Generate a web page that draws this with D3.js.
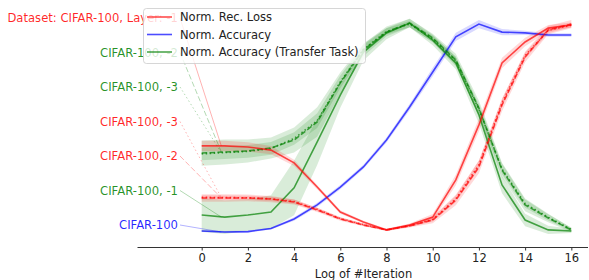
<!DOCTYPE html>
<html>
<head>
<meta charset="utf-8">
<script src="https://cdn.jsdelivr.net/npm/d3@7"></script>
<style>
  body { margin: 0; background: #fff; }
  svg { font-family: "DejaVu Sans", sans-serif; }
</style>
</head>
<body>
<div id="chart"></div>
<script>
// log of #iteration, 0..16
var iters = d3.range(0, 17);
var xTicks = [0, 2, 4, 6, 8, 10, 12, 14, 16];

// normalised curves (mean) and their spread (std)
var recLoss1 = [0.41, 0.41, 0.405, 0.39, 0.329, 0.214, 0.095, 0.048, 0.01, 0.033, 0.071, 0.248, 0.51, 0.805, 0.905, 0.971, 0.986];
var recLoss1Std = [0.025, 0.025, 0.022, 0.02, 0.015, 0.01, 0.008, 0.006, 0.005, 0.008, 0.015, 0.025, 0.03, 0.025, 0.02, 0.015, 0.012];
var recLoss2 = [0.162, 0.162, 0.162, 0.157, 0.143, 0.105, 0.062, 0.033, 0.01, 0.029, 0.057, 0.152, 0.31, 0.605, 0.833, 0.962, 0.99];
var recLoss2Std = [0.018, 0.018, 0.016, 0.015, 0.012, 0.01, 0.008, 0.006, 0.005, 0.008, 0.015, 0.025, 0.03, 0.03, 0.025, 0.02, 0.02];
var recLoss3 = [0.165, 0.164, 0.163, 0.158, 0.145, 0.108, 0.064, 0.035, 0.01, 0.03, 0.06, 0.158, 0.32, 0.615, 0.84, 0.96, 0.985];
var recLoss3Std = [0.01, 0.01, 0.01, 0.01, 0.01, 0.008, 0.006, 0.005, 0.004, 0.006, 0.01, 0.015, 0.02, 0.02, 0.015, 0.012, 0.01];

var acc = [0.005, 0.0, 0.002, 0.017, 0.062, 0.129, 0.214, 0.31, 0.438, 0.595, 0.762, 0.929, 0.99, 0.952, 0.948, 0.938, 0.938];
var accStd = [0.005, 0.005, 0.005, 0.005, 0.008, 0.01, 0.01, 0.01, 0.012, 0.015, 0.02, 0.02, 0.02, 0.015, 0.01, 0.008, 0.008];

var tAcc1 = [0.081, 0.071, 0.081, 0.095, 0.21, 0.429, 0.652, 0.857, 0.948, 0.995, 0.914, 0.805, 0.557, 0.224, 0.057, 0.01, 0.005];
var tAcc1Std = [0.08, 0.08, 0.075, 0.08, 0.13, 0.11, 0.06, 0.04, 0.03, 0.02, 0.025, 0.03, 0.04, 0.04, 0.03, 0.02, 0.01];
var tAcc2 = [0.376, 0.381, 0.386, 0.4, 0.438, 0.524, 0.71, 0.867, 0.952, 0.995, 0.924, 0.819, 0.59, 0.295, 0.129, 0.067, 0.01];
var tAcc2Std = [0.06, 0.06, 0.055, 0.05, 0.06, 0.07, 0.05, 0.03, 0.02, 0.02, 0.02, 0.03, 0.035, 0.035, 0.03, 0.02, 0.01];
var tAcc3 = [0.372, 0.378, 0.384, 0.398, 0.445, 0.53, 0.715, 0.87, 0.955, 0.99, 0.92, 0.815, 0.585, 0.3, 0.135, 0.07, 0.012];
var tAcc3Std = [0.03, 0.03, 0.03, 0.03, 0.03, 0.035, 0.03, 0.02, 0.015, 0.015, 0.015, 0.02, 0.025, 0.025, 0.02, 0.015, 0.008];

var labels = ["Dataset: CIFAR-100, Layer: -1", "CIFAR-100, -2", "CIFAR-100, -3",
  "CIFAR-100, -3", "CIFAR-100, -2", "CIFAR-100, -1", "CIFAR-100"];
var legendNames = ["Norm. Rec. Loss", "Norm. Accuracy", "Norm. Accuracy (Transfer Task)"];

var RED = "#ff0000", BLUE = "#0000ff", GREEN = "#008000";
var DASH = {solid: null, dashed: "5.5,2.4", dotted: "1.5,2.5"};

// one entry per curve, in label order (top label first)
var series = [
  {mean: recLoss1, std: recLoss1Std, color: RED, style: "solid"},
  {mean: tAcc2, std: tAcc2Std, color: GREEN, style: "dashed"},
  {mean: tAcc3, std: tAcc3Std, color: GREEN, style: "dotted"},
  {mean: recLoss3, std: recLoss3Std, color: RED, style: "dotted"},
  {mean: recLoss2, std: recLoss2Std, color: RED, style: "dashed"},
  {mean: tAcc1, std: tAcc1Std, color: GREEN, style: "solid"},
  {mean: acc, std: accStd, color: BLUE, style: "solid"}
];
series.forEach(function(s, i){ s.label = labels[i]; });

var width = 589, height = 280;
var svg = d3.select("#chart").append("svg")
  .attr("width", width)
  .attr("height", height);

var x = d3.scaleLinear().domain([-2.8, 16.7]).range([137, 587.5]);
var y = d3.scaleLinear().domain([0, 1]).range([232, 22]);

var area = d3.area()
  .x(function(d){ return x(d.i); })
  .y0(function(d){ return y(d.m - d.s); })
  .y1(function(d){ return y(d.m + d.s); });
var line = d3.line()
  .x(function(d){ return x(d.i); })
  .y(function(d){ return y(d.m); });

function rows(s){
  return iters.map(function(it, k){ return {i: it, m: s.mean[k], s: s.std[k]}; });
}

// bands first, then lines
var plot = svg.append("g");
series.slice().reverse().forEach(function(s){
  plot.append("path")
    .attr("d", area(rows(s)))
    .attr("fill", s.color)
    .attr("fill-opacity", 0.15);
});
series.slice().reverse().forEach(function(s){
  plot.append("path")
    .attr("d", line(rows(s)))
    .attr("fill", "none")
    .attr("stroke", s.color)
    .attr("stroke-opacity", 0.7)
    .attr("stroke-width", 1.6)
    .attr("stroke-dasharray", DASH[s.style]);
});

// labels on the left, with leader lines to each curve
var labelRight = 178, labelTop = 18, labelStep = 34.5;
var ann = svg.append("g");
series.forEach(function(s, i){
  var ly = labelTop + i * labelStep;
  ann.append("line")
    .attr("x1", labelRight + 2).attr("y1", ly)
    .attr("x2", x(0.85)).attr("y2", y(s.mean[1]))
    .attr("stroke", s.color)
    .attr("stroke-opacity", 0.3)
    .attr("stroke-width", 1)
    .attr("stroke-dasharray", DASH[s.style]);
  ann.append("text")
    .attr("x", labelRight).attr("y", ly)
    .attr("dy", "0.35em")
    .attr("text-anchor", "end")
    .attr("font-size", 11.6)
    .attr("fill", s.color)
    .attr("fill-opacity", 0.85)
    .text(s.label);
});

// x axis
var xAxis = svg.append("g")
  .attr("transform", "translate(0,247)")
  .call(d3.axisBottom(x).tickValues(xTicks).tickSize(3.5).tickPadding(3.5).tickSizeOuter(0));
xAxis.select(".domain").attr("stroke", "#333").attr("stroke-width", 1);
xAxis.selectAll(".tick line").attr("stroke", "#333");
xAxis.selectAll("text").attr("font-size", 11.5).attr("fill", "#222")
  .attr("font-family", "DejaVu Sans, sans-serif");

svg.append("text")
  .attr("x", 363.5).attr("y", 278)
  .attr("text-anchor", "middle")
  .attr("font-size", 11.5)
  .attr("fill", "#222")
  .text("Log of #Iteration");

// legend
var legend = svg.append("g");
legend.append("rect")
  .attr("x", 143.5).attr("y", 8.5)
  .attr("width", 222).attr("height", 55)
  .attr("rx", 3)
  .attr("fill", "#fff").attr("fill-opacity", 0.8)
  .attr("stroke", "#ccc").attr("stroke-opacity", 0.8);
[RED, BLUE, GREEN].forEach(function(c, i){
  var ly = 17 + i * 17.5;
  legend.append("line")
    .attr("x1", 147).attr("x2", 172)
    .attr("y1", ly).attr("y2", ly)
    .attr("stroke", c).attr("stroke-opacity", 0.7).attr("stroke-width", 1.6);
  legend.append("text")
    .attr("x", 180).attr("y", ly)
    .attr("dy", "0.35em")
    .attr("font-size", 11.5)
    .attr("fill", "#222")
    .text(legendNames[i]);
});
</script>
</body>
</html>
